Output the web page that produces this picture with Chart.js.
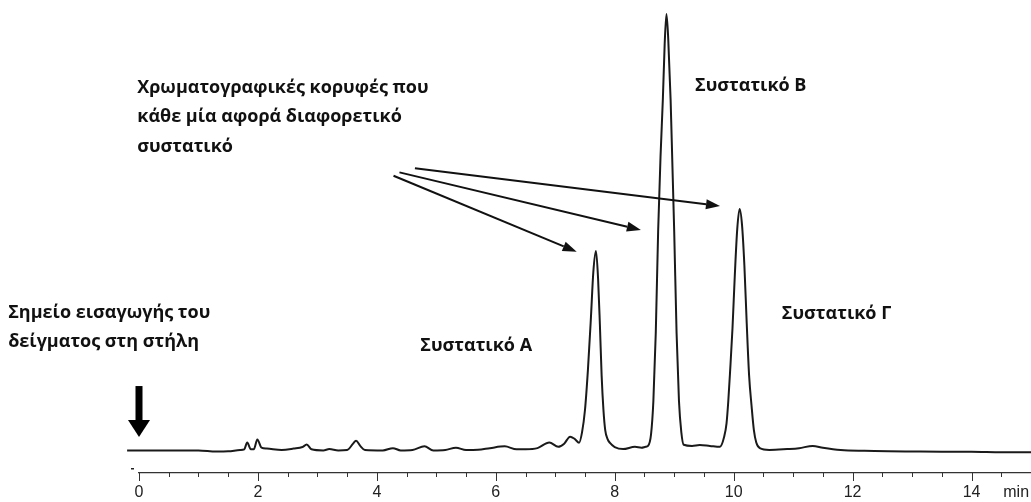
<!DOCTYPE html>
<html>
<head>
<meta charset="utf-8">
<script src="https://cdn.jsdelivr.net/npm/chart.js@4"></script>
<style>
  html, body { margin: 0; padding: 0; background: #fff; }
  #wrap { width: 1031px; height: 502px; position: relative; }
</style>
</head>
<body>
<div id="wrap"><canvas id="chart"></canvas></div>
<script>
// retention time (min) and detector signal
const times = [
  -0.2, 0.5, 1.0, 1.3, 1.5, 1.7, 1.77, 1.82, 1.88, 1.93, 1.99, 2.06, 2.15, 2.4, 2.6, 2.75, 2.82, 2.9,
  3.1, 3.2, 3.35, 3.5, 3.6, 3.65, 3.72, 3.8, 4.1, 4.27, 4.4, 4.6, 4.8, 4.95, 5.15, 5.33, 5.5, 5.7,
  5.9, 6.15, 6.35, 6.5, 6.7, 6.9, 7.05, 7.15, 7.25, 7.33, 7.40,
  7.45, 7.50, 7.55, 7.60, 7.64, 7.685, 7.72, 7.75, 7.78, 7.81, 7.84, 7.88, 7.92, 8.0, 8.14, 8.34, 8.45, 8.52,
  8.56, 8.61, 8.65, 8.69, 8.73, 8.77, 8.81, 8.84, 8.87, 8.90, 8.94, 8.97, 9.00, 9.04, 9.08, 9.12, 9.16,
  9.3, 9.43, 9.6, 9.77,
  9.84, 9.88, 9.91, 9.94, 9.98, 10.02, 10.06, 10.10, 10.14, 10.18, 10.22, 10.26, 10.30, 10.34, 10.38, 10.44,
  10.6, 10.9, 11.1, 11.33, 11.5, 11.8, 12.2, 12.6, 13.0, 13.5, 14.0, 14.5, 15.0
];
const signal = [
  0, 0, 0, -0.05, -0.04, 0.02, 0.05, 0.35, 0.05, 0.05, 0.48, 0.12, 0.08, 0.02, 0.08, 0.15, 0.26, 0.05,
  0.0, 0.06, 0.0, 0.02, 0.3, 0.43, 0.2, 0.02, 0.0, 0.1, 0.0, 0.02, 0.18, 0.0, 0.02, 0.12, 0.02, 0.03,
  0.1, 0.18, 0.05, 0.05, 0.1, 0.35, 0.16, 0.3, 0.61, 0.5, 0.34,
  0.8, 1.8, 3.6, 5.9, 7.9, 8.83, 7.6, 5.6, 3.3, 1.8, 0.9, 0.5, 0.33, 0.15, 0.06, 0.16, 0.12, 0.16,
  0.2, 0.7, 2.2, 5.2, 9.7, 13.0, 15.6, 18.0, 19.32, 18.2, 15.5, 12.6, 9.7, 5.2, 2.2, 0.8, 0.25,
  0.2, 0.24, 0.2, 0.16,
  0.6, 1.2, 2.2, 3.5, 5.4, 7.8, 9.8, 10.69, 10.0, 8.2, 5.6, 3.3, 2.0, 0.9, 0.35, 0.1,
  0.02, 0.06, 0.1, 0.2, 0.12, 0.02, -0.02, -0.04, -0.05, -0.06, -0.06, -0.08, -0.08
];
const labelledTicks = [0, 2, 4, 6, 8, 10, 12, 14];
const axisUnit = 'min';

// annotation text (left edge and vertical centre in data units)
const notes = [
  { text: 'Χρωματογραφικές κορυφές που', x: -0.03, y: 16.05 },
  { text: 'κάθε μία αφορά διαφορετικό', x: -0.03, y: 14.75 },
  { text: 'συστατικό', x: -0.03, y: 13.45 },
  { text: 'Συστατικό Β', x: 9.35, y: 16.15 },
  { text: 'Συστατικό Γ', x: 10.81, y: 6.05 },
  { text: 'Συστατικό Α', x: 4.73, y: 4.62 },
  { text: 'Σημείο εισαγωγής του', x: -2.2, y: 6.08 },
  { text: 'δείγματος στη στήλη', x: -2.2, y: 4.80 }
];
// pointer arrows, tail -> tip
const arrows = [
  { from: [4.64, 12.49], to: [9.77, 10.82] },
  { from: [4.38, 12.31], to: [8.44, 9.76] },
  { from: [4.28, 12.16], to: [7.36, 8.80] }
];
const injection = { x: 0, top: 2.85, tip: 0.59 };

const annotationPlugin = {
  id: 'annotations',
  afterDraw (chart) {
    const { ctx, scales: { x, y } } = chart;
    ctx.save();

    // tick marks: long at the labelled values, short in between
    ctx.strokeStyle = '#333';
    ctx.lineWidth = 1;
    const axisY = chart.chartArea.bottom;
    for (let v = 0; v <= 15; v += 0.5) {
      const px = Math.round(x.getPixelForValue(v)) + 0.5;
      ctx.beginPath();
      ctx.moveTo(px, axisY);
      ctx.lineTo(px, axisY + (labelledTicks.includes(v) ? 8 : 4));
      ctx.stroke();
    }

    // unit label and the small dash at the axis start
    ctx.fillStyle = '#222';
    ctx.font = '16px "Liberation Sans", Arial, sans-serif';
    ctx.textAlign = 'center';
    ctx.textBaseline = 'middle';
    ctx.fillText(axisUnit, x.getPixelForValue(14.75), axisY + 20);
    ctx.fillRect(x.getPixelForValue(0) - 8, axisY - 5, 3, 1.5);

    // text
    ctx.fillStyle = '#111';
    ctx.font = 'bold 18px "Open Sans", "Noto Sans", sans-serif';
    ctx.textAlign = 'left';
    notes.forEach(n => {
      ctx.fillText(n.text, x.getPixelForValue(n.x), y.getPixelForValue(n.y));
    });

    // pointer arrows
    ctx.strokeStyle = '#111';
    ctx.lineWidth = 2;
    arrows.forEach(a => {
      const x0 = x.getPixelForValue(a.from[0]);
      const y0 = y.getPixelForValue(a.from[1]);
      const x1 = x.getPixelForValue(a.to[0]);
      const y1 = y.getPixelForValue(a.to[1]);
      const ang = Math.atan2(y1 - y0, x1 - x0);
      const len = 14;
      const half = 5;
      const bx = x1 - len * Math.cos(ang);
      const by = y1 - len * Math.sin(ang);
      ctx.beginPath();
      ctx.moveTo(x0, y0);
      ctx.lineTo(bx, by);
      ctx.stroke();
      ctx.beginPath();
      ctx.moveTo(x1, y1);
      ctx.lineTo(bx + half * Math.sin(ang), by - half * Math.cos(ang));
      ctx.lineTo(bx - half * Math.sin(ang), by + half * Math.cos(ang));
      ctx.closePath();
      ctx.fill();
    });

    // sample injection arrow
    const ix = x.getPixelForValue(injection.x);
    const top = y.getPixelForValue(injection.top);
    const tip = y.getPixelForValue(injection.tip);
    const headTop = tip - 17;
    ctx.fillStyle = '#000';
    ctx.fillRect(ix - 3.5, top, 7, headTop - top + 1);
    ctx.beginPath();
    ctx.moveTo(ix - 11, headTop);
    ctx.lineTo(ix + 11, headTop);
    ctx.lineTo(ix, tip);
    ctx.closePath();
    ctx.fill();

    ctx.restore();
  }
};

new Chart(document.getElementById('chart'), {
  type: 'line',
  data: {
    labels: times,
    datasets: [{
      data: times.map((t, i) => ({ x: t, y: signal[i] })),
      borderColor: '#1a1a1a',
      borderWidth: 2,
      pointRadius: 0,
      cubicInterpolationMode: 'monotone',
      fill: false,
      clip: false
    }]
  },
  options: {
    responsive: true,
    maintainAspectRatio: false,
    animation: false,
    layout: { padding: { left: 139, right: 0, top: 10, bottom: 0 } },
    plugins: { legend: { display: false }, tooltip: { enabled: false } },
    scales: {
      x: {
        type: 'linear',
        min: 0,
        max: 15,
        afterFit (scale) { scale.height = 29 },
        border: { display: true, color: '#333', width: 1.2 },
        // tick marks are drawn by the plugin; the transparent ones only keep the label offset
        grid: { drawOnChartArea: false, drawTicks: true, tickLength: 10, tickColor: 'rgba(0,0,0,0)' },
        ticks: {
          stepSize: 0.5,
          autoSkip: false,
          maxRotation: 0,
          padding: 0,
          color: '#222',
          font: { family: '"Liberation Sans", Arial, sans-serif', size: 16 },
          callback: v => labelledTicks.includes(v) ? String(v) : ''
        }
      },
      y: {
        display: false,
        min: -1,
        max: 19.5
      }
    }
  },
  plugins: [annotationPlugin]
});
</script>
</body>
</html>
